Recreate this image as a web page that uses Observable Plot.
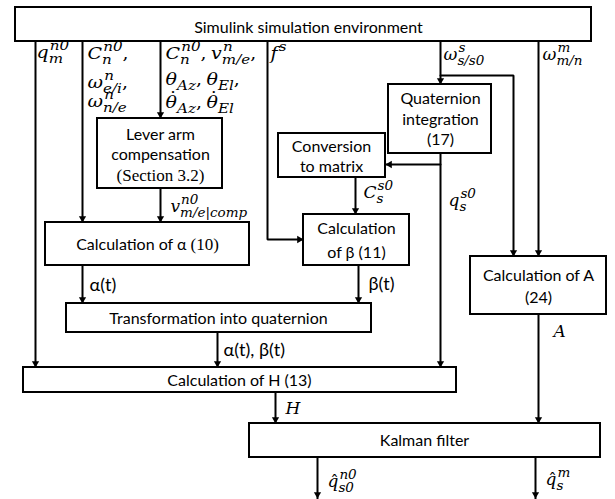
<!DOCTYPE html>
<html><head><meta charset="utf-8">
<script src="https://cdn.jsdelivr.net/npm/d3@7"></script>
<script src="https://cdn.jsdelivr.net/npm/@observablehq/plot@0.6"></script>
<style>html,body{margin:0;padding:0;background:#fff}</style>
</head><body><div id="chart"></div>
<script>
// ---- Boxes (diagram coordinates in px) ----
const boxes = [
  {id: "sim",    x1: 15,  x2: 591, y1: 7,   y2: 41},
  {id: "lever",  x1: 97,  x2: 222, y1: 118, y2: 188},
  {id: "quat",   x1: 388, x2: 491, y1: 84,  y2: 153},
  {id: "conv",   x1: 278, x2: 385, y1: 133, y2: 177},
  {id: "beta",   x1: 303, x2: 409, y1: 214, y2: 265},
  {id: "alpha",  x1: 45,  x2: 249, y1: 222, y2: 265},
  {id: "transf", x1: 66,  x2: 371, y1: 303, y2: 332},
  {id: "H",      x1: 23,  x2: 456, y1: 367, y2: 392},
  {id: "A",      x1: 470, x2: 606, y1: 256, y2: 314},
  {id: "kalman", x1: 249, x2: 600, y1: 423, y2: 457}
];

// ---- Box captions ([...] = serif part) ----
const boxLabels = [
  {x: 308, y: 32,  text: "Simulink simulation environment"},
  {x: 160, y: 139, text: "Lever arm"},
  {x: 160, y: 159, text: "compensation"},
  {x: 160, y: 180, text: "[(Section 3.2)]"},
  {x: 440, y: 103, text: "Quaternion"},
  {x: 440, y: 124, text: "integration"},
  {x: 440, y: 144, text: "(17)"},
  {x: 331, y: 151, text: "Conversion"},
  {x: 331, y: 171, text: "to matrix"},
  {x: 356, y: 233, text: "Calculation"},
  {x: 356, y: 257, text: "of β (11)"},
  {x: 147, y: 249, text: "Calculation of α [(10)]"},
  {x: 218, y: 323, text: "Transformation into quaternion"},
  {x: 239, y: 385, text: "Calculation of H (13)"},
  {x: 538, y: 280, text: "Calculation of A"},
  {x: 538, y: 302, text: "(24)"},
  {x: 424, y: 445, text: "Kalman filter"}
];

// ---- Connectors (polylines; arrowhead at last point) ----
const connectors = [
  {id: "q",     pts: [[35, 41], [35, 367]]},
  {id: "C1",    pts: [[82, 41], [82, 222]]},
  {id: "C2",    pts: [[160, 41], [160, 118]]},
  {id: "vcomp", pts: [[160, 188], [160, 222]]},
  {id: "fs",    pts: [[267, 41], [267, 239], [303, 239]]},
  {id: "ws",    pts: [[440, 41], [440, 84]]},
  {id: "wsA",   pts: [[440, 75], [513, 75], [513, 256]]},
  {id: "wm",    pts: [[538, 41], [538, 256]]},
  {id: "qs",    pts: [[440, 153], [440, 367]]},
  {id: "toC",   pts: [[440, 164], [385, 164]]},
  {id: "Cs",    pts: [[355, 177], [355, 214]]},
  {id: "at",    pts: [[82, 265], [82, 303]]},
  {id: "bt",    pts: [[358, 265], [358, 303]]},
  {id: "abt",   pts: [[217, 332], [217, 367]]},
  {id: "Hout",  pts: [[275, 392], [275, 423]]},
  {id: "Aout",  pts: [[538, 314], [538, 423]]},
  {id: "qn",    pts: [[317, 457], [317, 498]]},
  {id: "qm",    pts: [[535, 457], [535, 498]]}
];

// ---- Upright signal labels ----
const signalLabels = [
  {x: 89,  y: 290, text: "α(t)"},
  {x: 368, y: 289, text: "β(t)"},
  {x: 223, y: 355, text: "α(t), β(t)"}
];

// ---- Math labels (_ = subscript, ^ = superscript) ----
// inputs taken from the simulation block (wider equation setting)
const inputMathLabels = [
  {x: 36,  y: 57,  tex: "q_{m}^{n0}"},
  {x: 87,  y: 58,  tex: "C_{n}^{n0},"},
  {x: 87,  y: 87,  tex: "ω_{e/i}^{n},"},
  {x: 87,  y: 106, tex: "ω_{n/e}^{n}"},
  {x: 165, y: 58,  tex: "C_{n}^{n0}, v_{m/e}^{n},"},
  {x: 165, y: 84,  tex: "θ_{Az}, θ_{El},"},
  {x: 165, y: 107, tex: "θ\u0307_{Az}, θ\u0307_{El}"},
  {x: 270, y: 58,  tex: "f^{s}"}
];
const mathLabels = [
  {x: 443, y: 59,  tex: "ω_{s/s0}^{s}"},
  {x: 542, y: 59,  tex: "ω_{m/n}^{m}"},
  {x: 170, y: 211, tex: "v_{m/e|comp}^{n0}"},
  {x: 363, y: 197, tex: "C_{s}^{s0}"},
  {x: 448, y: 205, tex: "q_{s}^{s0}"},
  {x: 285, y: 413, tex: "H"},
  {x: 553, y: 336, tex: "A"},
  {x: 327, y: 486, tex: "q\u0302_{s0}^{n0}"},
  {x: 545, y: 484, tex: "q\u0302_{s}^{m}"}
];

const SANS = "Lato, 'Open Sans', sans-serif";
const SERIF_UP = "'Liberation Serif', 'DejaVu Serif', serif";
const MATH = "'DejaVu Serif', serif";

// line rows
const lineRows = connectors.flatMap(c => c.pts.map(([x, y]) => ({id: c.id, x, y})));
// arrowheads
const HEAD_R = 2.7;
const heads = connectors.map(c => {
  const n = c.pts.length;
  const [x0, y0] = c.pts[n - 2], [x1, y1] = c.pts[n - 1];
  const dx = x1 - x0, dy = y1 - y0, L = Math.hypot(dx, dy);
  const off = 1.555 * HEAD_R;
  return {x: x1 - dx / L * off, y: y1 - dy / L * off, angle: Math.atan2(dx, -dy) * 180 / Math.PI};
});

const mathOpts = {x: "x", y: "y", text: "tex", textAnchor: "start", lineAnchor: "bottom",
  fontSize: 17, fontFamily: MATH, fontStyle: "italic", fill: "#000"};

const plot = Plot.plot({
  width: 615, height: 499,
  margin: 0,
  x: {type: "linear", domain: [0, 615], range: [0, 615], axis: null},
  y: {type: "linear", domain: [0, 499], range: [0, 499], axis: null},
  style: {background: "#fff", color: "#000", fontFamily: SANS},
  marks: [
    Plot.line(lineRows, {x: "x", y: "y", z: "id", stroke: "#000", strokeWidth: 2, strokeLinejoin: "miter"}),
    Plot.rect(boxes, {x1: "x1", x2: "x2", y1: "y1", y2: "y2", fill: "#fff", stroke: "#000", strokeWidth: 2}),
    Plot.dot(heads, {x: "x", y: "y", symbol: "triangle", r: HEAD_R, rotate: "angle", fill: "#000", stroke: "none"}),
    Plot.text(boxLabels, {x: "x", y: "y", text: "text", textAnchor: "middle", lineAnchor: "bottom",
      fontSize: 16, fontFamily: SANS, fill: "#000"}),
    Plot.text(signalLabels, {x: "x", y: "y", text: "text", textAnchor: "start", lineAnchor: "bottom",
      fontSize: 18, fontFamily: SANS, fill: "#000"}),
    Plot.text(inputMathLabels, mathOpts),
    Plot.text(mathLabels, mathOpts)
  ]
});
document.getElementById("chart").append(plot);

// ---- Typesetting helpers (post-render, text stays real text) ----
const NS = "http://www.w3.org/2000/svg";
const ACCENTS = {"\u0307": {ch: "\u02D9", dy: -4}, "\u0302": {ch: "\u02C6", dy: 0}};
function parseTex(s) {
  const atoms = []; let i = 0;
  const group = () => {
    if (s[i] === "{") { const j = s.indexOf("}", i); const g = s.slice(i + 1, j); i = j + 1; return g; }
    return s[i++];
  };
  while (i < s.length) {
    const c = s[i];
    if (c === "_") { i++; atoms[atoms.length - 1].sub = group(); }
    else if (c === "^") { i++; atoms[atoms.length - 1].sup = group(); }
    else if (ACCENTS[c]) { i++; atoms[atoms.length - 1].accent = ACCENTS[c]; }
    else { atoms.push({base: c}); i++; }
  }
  return atoms;
}
function mk(parent, txt, attrs, style) {
  const t = document.createElementNS(NS, "tspan");
  for (const k in attrs) t.setAttribute(k, attrs[k]);
  if (style) for (const k in style) t.style[k] = style[k];
  t.textContent = txt; parent.appendChild(t); return t;
}
const SCRIPT = 13.5, SUP = -7.5, SUB = 5;
const wideSet = new Set(inputMathLabels.map(d => d.tex));
const mathSet = new Set(mathLabels.map(d => d.tex));
const bracketSet = new Set(boxLabels.filter(d => d.text.includes("[")).map(d => d.text));
plot.querySelectorAll("text").forEach(t => {
  const raw = t.textContent;
  if (mathSet.has(raw) || wideSet.has(raw)) {
    const atoms = parseTex(raw);
    t.textContent = ""; t.removeAttribute("y");
    let cx = 0;
    for (const a of atoms) {
      if (a.base === " ") { cx += 4; continue; }
      const upright = /[,|]/.test(a.base);
      const b = mk(t, a.base, {x: cx, y: 0}, {fontStyle: upright ? "normal" : "italic"});
      const w = b.getComputedTextLength();
      if (a.accent) {
        const ac = mk(t, a.accent.ch, {x: cx, y: a.accent.dy}, {fontStyle: "normal"});
        const aw = ac.getComputedTextLength();
        ac.setAttribute("x", cx + (w - aw) / 2 + 1.5);
      }
      let ws = 0;
      if (a.sup) { const s = mk(t, a.sup, {x: cx + w + 1, y: SUP}, {fontSize: SCRIPT + "px"}); ws = Math.max(ws, s.getComputedTextLength() + 1); }
      if (a.sub) { const s = mk(t, a.sub, {x: cx + w, y: SUB}, {fontSize: SCRIPT + "px"}); ws = Math.max(ws, s.getComputedTextLength()); }
      cx += w + ws;
    }
    if (wideSet.has(raw)) t.setAttribute("transform", (t.getAttribute("transform") || "") + " scale(1.12,1)");
  } else if (bracketSet.has(raw)) {
    t.textContent = "";
    raw.split(/(\[[^\]]*\])/).filter(p => p.length).forEach(p => {
      if (p.startsWith("[")) mk(t, p.slice(1, -1), {}, {fontFamily: SERIF_UP, fontSize: "17px"});
      else mk(t, p, {});
    });
  }
});
</script></body></html>
